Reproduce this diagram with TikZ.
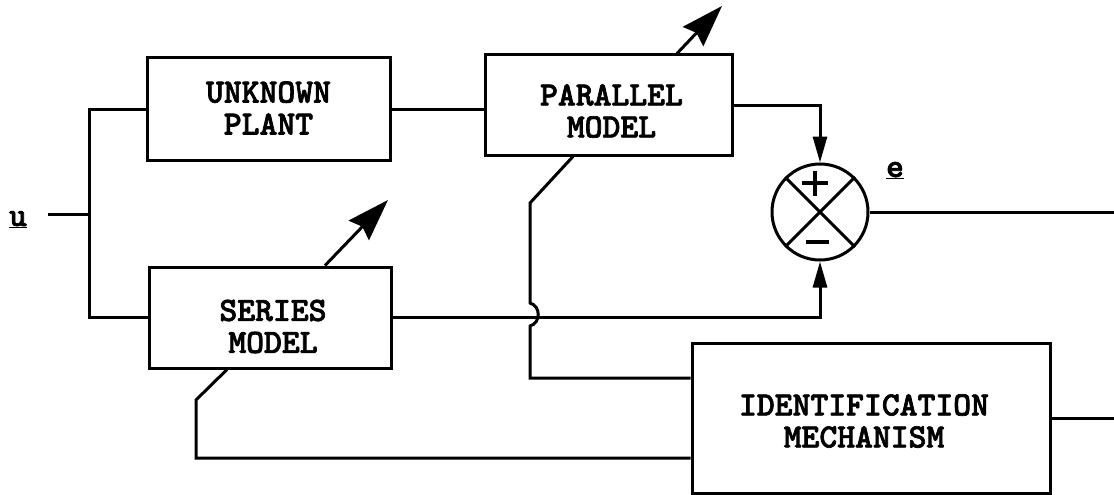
\documentclass[tikz,border=0pt]{standalone}
\usepackage{fontspec}
\newfontfamily\diagfont{lmmonolt10-bold.otf}[FakeBold=2]
\usetikzlibrary{arrows.meta,calc}
\begin{document}
\begin{tikzpicture}[x=1pt,y=-1pt,
  every node/.style={font=\diagfont\fontsize{34}{32}\selectfont},
  block/.style={draw,line width=3pt,inner sep=0pt},
  blocktext/.style={align=center,inner sep=0pt},
  wire/.style={line width=3pt},
  sumtip/.style={-{Triangle[length=26pt,width=14pt]}},
  tunetip/.style={-{Stealth[length=42pt,width=28pt,inset=5pt]}},
]
\useasboundingbox (0,0) rectangle (1114,495);

% blocks
\node[block, minimum width=243pt, minimum height=102pt] (plant) at (268.5,109) {};
\node[block, minimum width=247pt, minimum height=100pt] (parallel) at (608.5,105) {};
\node[block, minimum width=242pt, minimum height=101pt] (series) at (270,317.5) {};
\node[block, minimum width=358pt, minimum height=150pt] (ident) at (871,418) {};
\node[blocktext] (planttext) at ([shift={(0,-1)}]plant.center) {UNKNOWN\\PLANT};
\node[blocktext] (paralleltext) at ([shift={(3,6)}]parallel.center) {PARALLEL\\MODEL};
\node[blocktext] (seriestext) at ([shift={(3,9)}]series.center) {SERIES\\MODEL};
\node[blocktext] (identtext) at ([shift={(-7,3)}]ident.center) {IDENTIFICATION\\MECHANISM};

% summing junction
\node[draw, circle, line width=3pt, minimum size=96pt, inner sep=0pt] (sum) at (820,212) {};
\draw[wire] (sum.45) -- (sum.225) (sum.135) -- (sum.315);
\draw[line width=3.5pt] ([shift={(-5,-41)}]sum.center) -- ([shift={(-5,-16)}]sum.center)
  ([shift={(-18,-29)}]sum.center) -- ([shift={(8,-29)}]sum.center);
\draw[line width=4pt] ([shift={(-14,30)}]sum.center) -- ([shift={(9,30)}]sum.center);

% labels
\node[anchor=base] (ulabel) at (18,226) {\underline{u}};
\node[anchor=base] (elabel) at (895,177) {\underline{e}};

% input distribution
\coordinate (uin) at (48,214);
\coordinate (fork) at (89,214);
\draw[wire] (uin) -- (fork);
\draw[wire] (plant.west) -| (fork) |- (series.west);
\draw[wire] (plant.east) -- (parallel.west |- plant.east);

% model outputs into the summing junction
\draw[wire,sumtip] (parallel.east) -| (sum.north);
\draw[wire,sumtip] (series.east) -| (sum.south);

% outputs to the right edge
\coordinate (eout) at (1114,212);
\coordinate (iout) at (1114,418);
\draw[wire] (sum.east) -- (eout);
\draw[wire] (ident.east) -- (iout);

% adjustment arrows
\coordinate (ptune) at (722,6);
\coordinate (stune) at (388,200);
\draw[wire,tunetip] ([xshift=68.5pt]parallel.north) -- (ptune);
\draw[wire,tunetip] ([xshift=55pt]series.north) -- (stune);

% feedback from the identification mechanism
\coordinate (pbend) at (530,203);
\coordinate (phopa) at (530,303);
\coordinate (phopb) at (530,326);
\coordinate (pcorner) at (530,378);
\draw[wire] ([xshift=-35.5pt]parallel.south) -- (pbend) -- (phopa)
  .. controls (541,306) and (541,323) .. (phopb) -- (pcorner) -- (ident.west |- pcorner);

\coordinate (sbend) at (196,400);
\coordinate (scorner) at (196,458);
\draw[wire] ([xshift=-43pt]series.south) -- (sbend) -- (scorner) -- (ident.west |- scorner);
\end{tikzpicture}
\end{document}
